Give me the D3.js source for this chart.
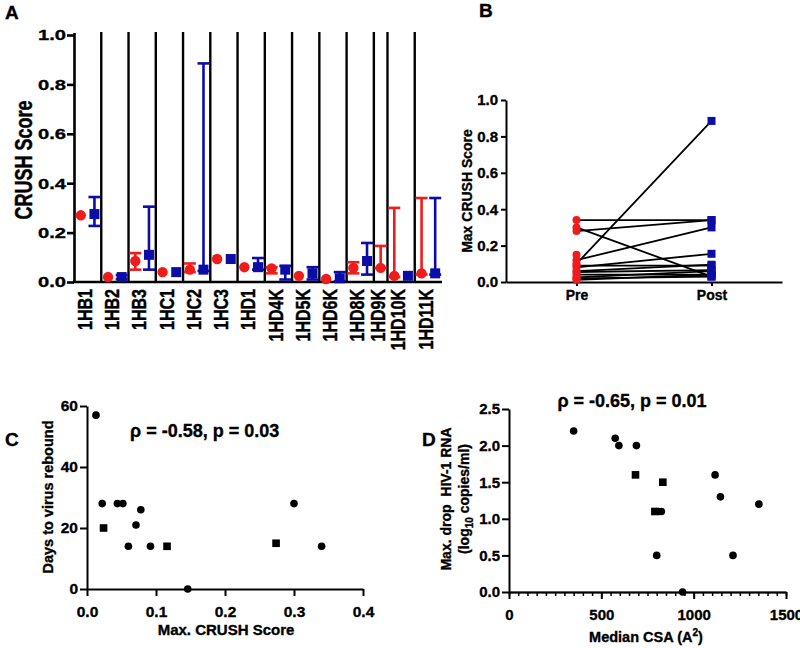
<!DOCTYPE html>
<html><head><meta charset="utf-8">
<script src="https://cdn.jsdelivr.net/npm/d3@7"></script>
<style>
body{margin:0;background:#fff}
svg text{font-family:"Liberation Sans",Arial,Helvetica,sans-serif;font-weight:bold;fill:#000;stroke:#000;stroke-width:0.35px}
</style></head><body>
<svg id="c" width="800" height="648"></svg>
<script>
// ---------- Panel A data ----------
const categories = ['1HB1','1HB2','1HB3','1HC1','1HC2','1HC3','1HD1','1HD4K','1HD5K','1HD6K','1HD8K','1HD9K','1HD10K','1HD11K'];
const preScore  = [0.27,0.02,0.085,0.04,0.05,0.093,0.06,0.055,0.025,0.012,0.057,0.057,0.025,0.035];
const preLow    = [0.27,0.02,0.05,0.04,0.04,0.093,0.06,0.035,0.025,0.012,0.035,0.057,0.02,0.03];
const preHigh   = [0.27,0.02,0.117,0.04,0.075,0.093,0.06,0.06,0.025,0.012,0.08,0.146,0.30,0.34];
const postScore = [0.275,0.02,0.11,0.04,0.05,0.093,0.06,0.05,0.035,0.015,0.085,null,0.025,0.035];
const postLow   = [0.227,0.012,0.05,0.04,0.045,0.093,0.05,0.01,0.01,0.002,0.03,null,0.025,0.03];
const postHigh  = [0.344,0.028,0.305,0.04,0.885,0.093,0.097,0.065,0.06,0.04,0.158,null,0.025,0.34];
const yTicksA = [0,0.2,0.4,0.6,0.8,1.0];

// ---------- Panel B data ----------
const phases = ['Pre','Post'];
const maxPre  = [0.28,0.02,0.12,0.04,0.10,0.09,0.06,0.055,0.025,0.012,0.08,0.15,0.30,0.34];
const maxPost = [0.34,0.03,0.30,0.04,0.885,0.09,0.095,0.065,0.06,0.04,0.155,null,0.03,0.34];
const yTicksB = [0,0.2,0.4,0.6,0.8,1.0];

// ---------- Panel C data ----------
const crushCircleX   = [0.013,0.022,0.044,0.052,0.078,0.071,0.060,0.092,0.146,0.300,0.340];
const reboundCircleY = [57,28,28,28,26,21,14,14,0,28,14];
const crushSquareX   = [0.024,0.116,0.274];
const reboundSquareY = [20,14,15];
const xTicksC = [0,0.1,0.2,0.3,0.4];
const yTicksC = [0,20,40,60];

// ---------- Panel D data ----------
const csaCircleX  = [350,575,595,690,800,810,825,940,1116,1145,1213,1353];
const dropCircleY = [2.2,2.1,2.0,2.0,0.5,1.1,1.1,0,1.6,1.3,0.5,1.2];
const csaSquareX  = [685,790,833];
const dropSquareY = [1.6,1.1,1.5];
const xTicksD = [0,500,1000,1500];
const yTicksD = [0,0.5,1.0,1.5,2.0,2.5];

const RED = '#f01c1c', BLUE = '#0c0ca8';
const svg = d3.select('#c');

function styleAxis(g, sw, fs){
  g.select('.domain').attr('stroke','#000').attr('stroke-width',sw);
  g.selectAll('.tick line').attr('stroke','#000').attr('stroke-width',sw);
  g.selectAll('.tick text').attr('font-size',fs).attr('fill','#000');
}

// ================= Panel A =================
const gA = svg.append('g');
const slotCount = categories.map((c,i)=> (preScore[i]!=null?1:0) + (postScore[i]!=null?1:0));
const slotStart = [0, ...d3.cumsum(slotCount)];
const totalSlots = slotStart[slotStart.length-1];
const xA = d3.scaleLinear().domain([0,totalSlots]).range([74,442]);
const yA = d3.scaleLinear().domain([0,1]).range([282,35]);

// separators
gA.append('g').selectAll('line').data(categories.slice(0,-1)).join('line')
  .attr('x1',(d,i)=>xA(slotStart[i+1])).attr('x2',(d,i)=>xA(slotStart[i+1]))
  .attr('y1',yA(1)-3).attr('y2',yA(0))
  .attr('stroke','#000').attr('stroke-width',2.4);

const axA = gA.append('g').attr('transform','translate(74,0)')
  .call(d3.axisLeft(yA).tickValues(yTicksA).tickFormat(d3.format('.1f')).tickSize(7).tickSizeOuter(0).tickPadding(1));
styleAxis(axA,2.6,15.5);
axA.selectAll('.tick text').attr('x',-8/1.3).attr('transform','scale(1.3,1)');
axA.select('.domain').attr('d',`M0.5,${yA(0)+1}V${yA(1)-2}`);
gA.append('line').attr('x1',73).attr('x2',442).attr('y1',yA(0)).attr('y2',yA(0)).attr('stroke','#000').attr('stroke-width',2.6);

// x labels (centred on each category's group)
gA.append('g').selectAll('text').data(categories).join('text')
  .attr('transform',(d,i)=>`translate(${xA((slotStart[i]+slotStart[i+1])/2)-3},289) rotate(-90) scale(1,1.25)`)
  .attr('text-anchor','end').attr('dy','0.36em').attr('font-size',16).text(d=>d);

// y title
gA.append('text').attr('transform','translate(32,160) rotate(-90) scale(1,1.3)')
  .attr('text-anchor','middle').attr('font-size',18).text('CRUSH Score');
gA.append('text').attr('x',5).attr('y',19).attr('font-size',19).text('A');

function errBars(g, xs, lo, hi, color){
  const idx = d3.range(categories.length).filter(i=>lo[i]!=null && hi[i]-lo[i]>0.001);
  const cap = 6;
  g.selectAll(null).data(idx).join('line')
    .attr('x1',i=>xs(i)).attr('x2',i=>xs(i)).attr('y1',i=>yA(lo[i])).attr('y2',i=>yA(hi[i]))
    .attr('stroke',color).attr('stroke-width',2.6);
  g.selectAll(null).data(idx.flatMap(i=>[[i,lo[i]],[i,hi[i]]])).join('line')
    .attr('x1',d=>xs(d[0])-cap).attr('x2',d=>xs(d[0])+cap).attr('y1',d=>yA(d[1])).attr('y2',d=>yA(d[1]))
    .attr('stroke',color).attr('stroke-width',2.6);
}
const preX = i=>xA(slotStart[i]+0.5);
const postX = i=>xA(slotStart[i]+1.5);
errBars(gA.append('g'), preX, preLow, preHigh, RED);
errBars(gA.append('g'), postX, postLow, postHigh, BLUE);
gA.append('g').selectAll('circle').data(d3.range(categories.length).filter(i=>preScore[i]!=null)).join('circle')
  .attr('cx',preX).attr('cy',i=>yA(preScore[i])).attr('r',5.2).attr('fill',RED);
gA.append('g').selectAll('rect').data(d3.range(categories.length).filter(i=>postScore[i]!=null)).join('rect')
  .attr('x',i=>postX(i)-5).attr('y',i=>yA(postScore[i])-5).attr('width',10).attr('height',10).attr('fill',BLUE);

// ================= Panel B =================
const gB = svg.append('g');
const xB = d3.scalePoint().domain(phases).range([506,782]).padding(0.522);
const yB = d3.scaleLinear().domain([0,1]).range([282,100]);
const axBy = gB.append('g').attr('transform','translate(506,0)')
  .call(d3.axisLeft(yB).tickValues(yTicksB).tickFormat(d3.format('.1f')).tickSize(5).tickSizeOuter(0).tickPadding(3));
styleAxis(axBy,2,15);
const axBx = gB.append('g').attr('transform','translate(0,282)')
  .call(d3.axisBottom(xB).tickSize(4).tickSizeOuter(0).tickPadding(4));
styleAxis(axBx,2,14);
gB.append('g').selectAll('line').data(d3.range(maxPre.length).filter(i=>maxPost[i]!=null)).join('line')
  .attr('x1',xB('Pre')).attr('x2',xB('Post')).attr('y1',i=>yB(maxPre[i])).attr('y2',i=>yB(maxPost[i]))
  .attr('stroke','#000').attr('stroke-width',1.8);
gB.append('g').selectAll('circle').data(maxPre).join('circle')
  .attr('cx',xB('Pre')).attr('cy',d=>yB(d)).attr('r',4).attr('fill',RED);
gB.append('g').selectAll('rect').data(maxPost.filter(d=>d!=null)).join('rect')
  .attr('x',xB('Post')-4).attr('y',d=>yB(d)-4).attr('width',8).attr('height',8).attr('fill',BLUE);
gB.append('text').attr('transform','translate(472,191) rotate(-90)').attr('text-anchor','middle')
  .attr('font-size',14).text('Max CRUSH Score');
gB.append('text').attr('x',479).attr('y',17).attr('font-size',19).text('B');

// ================= Panel C =================
const gC = svg.append('g');
const xC = d3.scaleLinear().domain([0,0.4]).range([87,363]);
const yC = d3.scaleLinear().domain([0,60]).range([589,406]);
const axCx = gC.append('g').attr('transform','translate(0,589)')
  .call(d3.axisBottom(xC).tickValues(xTicksC).tickFormat(d3.format('.1f')).tickSize(7).tickSizeOuter(0).tickPadding(10));
styleAxis(axCx,2,15.5);
const axCy = gC.append('g').attr('transform','translate(87,0)')
  .call(d3.axisLeft(yC).tickValues(yTicksC).tickSize(7).tickSizeOuter(0).tickPadding(2));
styleAxis(axCy,2,15.5);
gC.append('g').selectAll('circle').data(crushCircleX).join('circle')
  .attr('cx',d=>xC(d)).attr('cy',(d,i)=>yC(reboundCircleY[i])).attr('r',3.8).attr('fill','#000');
gC.append('g').selectAll('rect').data(crushSquareX).join('rect')
  .attr('x',d=>xC(d)-3.8).attr('y',(d,i)=>yC(reboundSquareY[i])-3.8).attr('width',7.6).attr('height',7.6).attr('fill','#000');
gC.append('text').attr('x',226).attr('y',635).attr('text-anchor','middle').attr('font-size',15).text('Max. CRUSH Score');
gC.append('text').attr('transform','translate(53,497) rotate(-90)').attr('text-anchor','middle').attr('font-size',14.5).text('Days to virus rebound');
gC.append('text').attr('x',130).attr('y',437).attr('font-size',18).text('ρ = -0.58, p = 0.03');
gC.append('text').attr('x',5).attr('y',446).attr('font-size',19).text('C');

// ================= Panel D =================
const gD = svg.append('g');
const xD = d3.scaleLinear().domain([0,1500]).range([509,786]);
const yD = d3.scaleLinear().domain([0,2.5]).range([592,409]);
const axDminor = gD.append('g').attr('transform','translate(0,592)')
  .call(d3.axisBottom(xD).tickValues(d3.range(0,1501,50)).tickFormat('').tickSize(4).tickSizeOuter(0));
styleAxis(axDminor,1.5,14);
const axDx = gD.append('g').attr('transform','translate(0,592)')
  .call(d3.axisBottom(xD).tickValues(xTicksD).tickFormat(d3.format('d')).tickSize(7).tickSizeOuter(0).tickPadding(10));
styleAxis(axDx,2,15);
const axDy = gD.append('g').attr('transform','translate(509,0)')
  .call(d3.axisLeft(yD).tickValues(yTicksD).tickFormat(d3.format('.1f')).tickSize(7).tickSizeOuter(0).tickPadding(2));
styleAxis(axDy,2,15);
gD.append('g').selectAll('circle').data(csaCircleX).join('circle')
  .attr('cx',d=>xD(d)).attr('cy',(d,i)=>yD(dropCircleY[i])).attr('r',3.8).attr('fill','#000');
gD.append('g').selectAll('rect').data(csaSquareX).join('rect')
  .attr('x',d=>xD(d)-3.8).attr('y',(d,i)=>yD(dropSquareY[i])-3.8).attr('width',7.6).attr('height',7.6).attr('fill','#000');
const tD = gD.append('text').attr('x',646).attr('y',642).attr('text-anchor','middle').attr('font-size',14.5);
tD.append('tspan').text('Median CSA (A');
tD.append('tspan').attr('dy',-6).attr('font-size',10).text('2');
tD.append('tspan').attr('dy',6).text(')');
gD.append('text').attr('transform','translate(451,499) rotate(-90)').attr('text-anchor','middle')
  .attr('font-size',14).style('white-space','pre').text('Max. drop  HIV-1 RNA');
const t2 = gD.append('text').attr('transform','translate(469,499) rotate(-90)').attr('text-anchor','middle').attr('font-size',14);
t2.append('tspan').text('(log');
t2.append('tspan').attr('dy',4).attr('font-size',10).text('10');
t2.append('tspan').attr('dy',-4).text(' copies/ml)');
gD.append('text').attr('x',632).attr('y',407).attr('text-anchor','middle').attr('font-size',18).text('ρ = -0.65, p = 0.01');
gD.append('text').attr('x',422).attr('y',446).attr('font-size',19).text('D');
</script>
</body></html>
